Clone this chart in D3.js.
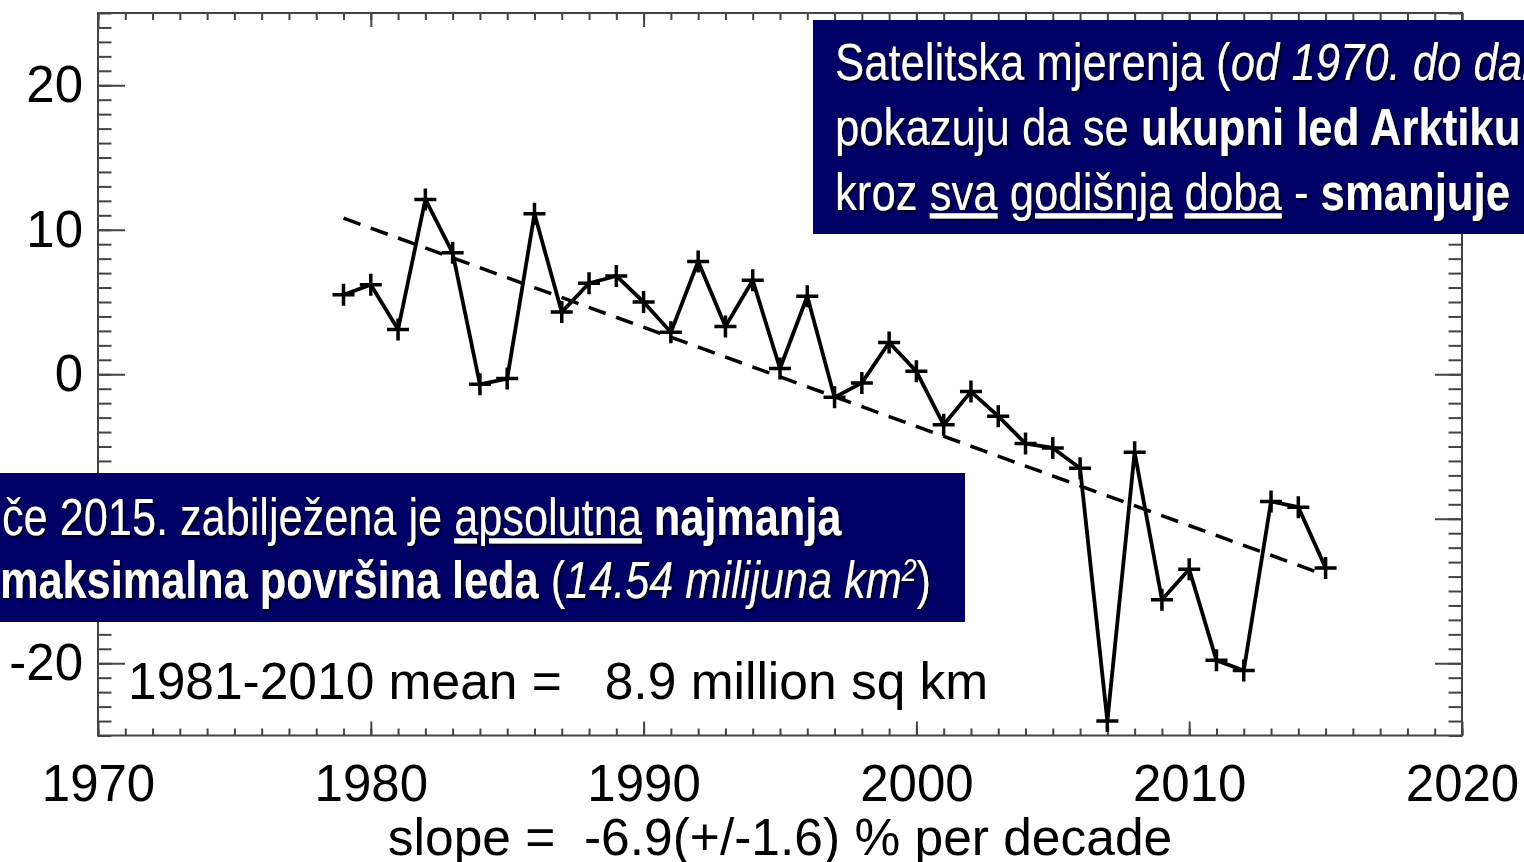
<!DOCTYPE html>
<html><head><meta charset="utf-8">
<script src="https://cdn.jsdelivr.net/npm/d3@7"></script>
<style>
html,body{margin:0;padding:0;background:#fff;overflow:hidden;}
svg{display:block;}
</style></head><body>
<script>
// ---- data ----
const years = [1979,1980,1981,1982,1983,1984,1985,1986,1987,1988,1989,1990,1991,1992,1993,1994,1995,1996,1997,1998,1999,2000,2001,2002,2003,2004,2005,2006,2007,2008,2009,2010,2011,2012,2013,2014,2015];
const anomalies = [5.5,6.2,3.1,12.1,8.4,-0.7,-0.3,11.1,4.3,6.3,6.8,5.0,2.9,7.8,3.3,6.5,0.4,5.4,-1.6,-0.6,2.2,0.2,-3.5,-1.2,-2.9,-4.8,-5.1,-6.5,-24.0,-5.4,-15.6,-13.5,-19.8,-20.5,-8.8,-9.2,-13.4];
const trendYears = [1979, 2015];
const trendValues = [10.8, -13.9];
const xTickLabels = [1970,1980,1990,2000,2010,2020];
const yTickLabels = [-20,-10,0,10,20];
const meanLabel = "1981-2010 mean =   8.9 million sq km";
const slopeLabel = "slope =  -6.9(+/-1.6) % per decade";
const box1Lines = [
  [{t:"Satelitska mjerenja ("},{t:"od 1970. do danas",i:1},{t:")"}],
  [{t:"pokazuju da se "},{t:"ukupni led Arktiku",b:1}],
  [{t:"kroz "},{t:"sva",u:1},{t:" "},{t:"godišnja",u:1},{t:" "},{t:"doba",u:1},{t:" - "},{t:"smanjuje",b:1}]
];
const box2Lines = [
  [{t:"če 2015. zabilježena je "},{t:"apsolutna",u:1},{t:" "},{t:"najmanja",b:1}],
  [{t:"maksimalna površina leda",b:1},{t:" ("},{t:"14.54 milijuna km",i:1},{t:"2",i:1,sup:1},{t:")"}]
];

// ---- layout ----
const W = 1524, H = 862;
const svg = d3.select("body").append("svg").attr("width", W).attr("height", H);
const defs = svg.append("defs");
const f = defs.append("filter").attr("id","sh").attr("x","-5%").attr("y","-30%").attr("width","110%").attr("height","160%");
f.append("feDropShadow").attr("dx",2).attr("dy",2).attr("stdDeviation",1.2).attr("flood-color","#000").attr("flood-opacity",0.85);

const x = d3.scaleLinear().domain([1970, 2020]).range([98, 1462]);
const y = d3.scaleLinear().domain([-25, 25]).range([735.5, 13]);
const AX = "#444";
const FONT = "'Liberation Sans', Arial, Helvetica, sans-serif";
const fmt = d => String(d);  // plain hyphen-minus like the reference

function styleAxis(g){
  g.select(".domain").remove();
  g.selectAll(".tick line").attr("stroke", AX).attr("stroke-width", 2);
  g.selectAll(".tick text").attr("fill","#000").style("font-family", FONT).style("font-size","51px");
}
// bottom
svg.append("g").attr("transform",`translate(0,${y(-25)})`)
  .call(d3.axisBottom(x).tickValues(x.ticks(50)).tickSize(-7).tickFormat("")).call(styleAxis);
svg.append("g").attr("transform",`translate(0,${y(-25)})`)
  .call(d3.axisBottom(x).tickValues(xTickLabels).tickSize(-14).tickPadding(29).tickFormat(fmt)).call(styleAxis);
// top
svg.append("g").attr("transform",`translate(0,${y(25)})`)
  .call(d3.axisTop(x).tickValues(x.ticks(50)).tickSize(-7).tickFormat("")).call(styleAxis);
svg.append("g").attr("transform",`translate(0,${y(25)})`)
  .call(d3.axisTop(x).tickValues(xTickLabels).tickSize(-14).tickFormat("")).call(styleAxis);
// left
svg.append("g").attr("transform",`translate(${x(1970)},0)`)
  .call(d3.axisLeft(y).tickValues(y.ticks(50)).tickSize(-13.5).tickFormat("")).call(styleAxis);
svg.append("g").attr("transform",`translate(${x(1970)},0)`)
  .call(d3.axisLeft(y).tickValues(yTickLabels).tickSize(-27).tickPadding(15).tickFormat(fmt)).call(styleAxis);
// right
svg.append("g").attr("transform",`translate(${x(2020)},0)`)
  .call(d3.axisRight(y).tickValues(y.ticks(50)).tickSize(-13.5).tickFormat("")).call(styleAxis);
svg.append("g").attr("transform",`translate(${x(2020)},0)`)
  .call(d3.axisRight(y).tickValues(yTickLabels).tickSize(-27).tickFormat("")).call(styleAxis);
// frame
svg.append("rect").attr("x",x(1970)).attr("y",y(25)).attr("width",x(2020)-x(1970)).attr("height",y(-25)-y(25))
  .attr("fill","none").attr("stroke",AX).attr("stroke-width",2);

// trend line and data
const pts = years.map((yr,i)=>[yr, anomalies[i]]);
const tpts = trendYears.map((yr,i)=>[yr, trendValues[i]]);
const line = d3.line().x(d=>x(d[0])).y(d=>y(d[1]));
svg.append("path").attr("d", line(tpts)).attr("fill","none").attr("stroke","#000").attr("stroke-width",3.5).attr("stroke-dasharray","18,11");
svg.append("path").attr("d", line(pts)).attr("fill","none").attr("stroke","#000").attr("stroke-width",3.8).attr("stroke-linejoin","round");
svg.append("g").selectAll("path").data(pts).join("path")
  .attr("transform", d=>`translate(${x(d[0])},${y(d[1])})`)
  .attr("d","M-11,0H11M0,-11V11").attr("stroke","#000").attr("stroke-width",3.5).attr("fill","none");

// in-plot labels
svg.append("text").attr("x",128).attr("y",699).text(meanLabel)
  .style("font-family",FONT).style("font-size","51.5px").style("white-space","pre").attr("fill","#000");
svg.append("text").attr("x",(x(1970)+x(2020))/2).attr("y",855).attr("text-anchor","middle").text(slopeLabel)
  .style("font-family",FONT).style("font-size","51.5px").style("white-space","pre").attr("fill","#000");

// overlay boxes
const NAVY = "#000066";
const FS = 52;
function drawBox(rx, ry, rw, rh, tx, baselines, lines, SX){
  svg.append("rect").attr("x",rx).attr("y",ry).attr("width",rw).attr("height",rh).attr("fill",NAVY);
  const g = svg.append("g").attr("transform",`scale(${SX},1)`).attr("filter","url(#sh)");
  lines.forEach((segs, li)=>{
    const t = g.append("text").attr("x", tx[li]/SX).attr("y", baselines[li])
      .style("font-family",FONT).style("font-size",FS+"px").style("white-space","pre").attr("fill","#fff");
    segs.forEach(s=>{
      const ts = t.append("tspan").text(s.t);
      if(s.b) ts.style("font-weight","bold");
      if(s.i) ts.style("font-style","italic");
      if(s.u) ts.style("text-decoration","underline");
      if(s.sup) ts.attr("baseline-shift","super").style("font-size",(FS*0.62)+"px");
    });
  });
}
drawBox(813, 20, W-813, 214, [835,835,835], [80,145,210], box1Lines, 0.84);
drawBox(0, 473, 965, 149, [2,0], [535,598], box2Lines, 0.832);
</script>
</body></html>
